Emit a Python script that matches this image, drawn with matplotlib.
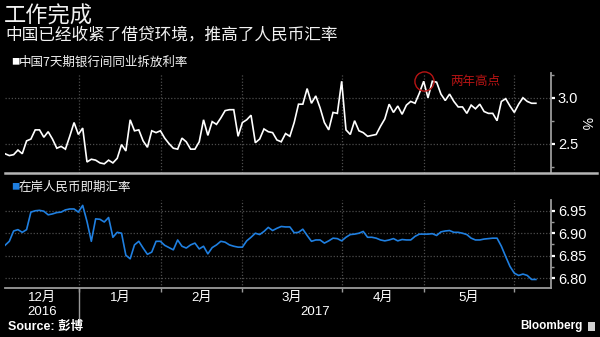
import numpy as np
import matplotlib
matplotlib.use('Agg')
import matplotlib.pyplot as plt
from matplotlib.lines import Line2D
from matplotlib.patches import Rectangle
from matplotlib.transforms import blended_transform_factory as btf
from matplotlib.ticker import FixedLocator, NullFormatter

plt.rcParams['font.family'] = ['Liberation Sans', 'Noto Sans CJK SC', 'DejaVu Sans']

# ---------------- data (one value per trading day) ----------------
shibor_7d = [2.39, 2.37, 2.38, 2.43, 2.39, 2.53, 2.55, 2.65, 2.65, 2.57,
             2.63, 2.55, 2.45, 2.47, 2.44, 2.58, 2.73, 2.60, 2.67, 2.30,
             2.33, 2.32, 2.29, 2.28, 2.32, 2.29, 2.34, 2.49, 2.42, 2.76,
             2.64, 2.65, 2.53, 2.46, 2.64, 2.62, 2.64, 2.56, 2.50, 2.45,
             2.44, 2.56, 2.52, 2.44,
             2.44, 2.52, 2.76, 2.59, 2.74, 2.71, 2.78, 2.86, 2.87, 2.87,
             2.58, 2.73, 2.76, 2.81, 2.51, 2.55, 2.66, 2.63, 2.62, 2.54,
             2.52, 2.61, 2.58, 2.73, 2.93, 2.93, 3.10, 2.94, 3.02, 2.89,
             2.73, 2.65, 2.84, 2.83, 3.18, 2.65, 2.60, 2.75, 2.64, 2.62,
             2.58, 2.59, 2.60,
             2.69, 2.77, 2.93, 2.84, 2.91, 2.82, 2.92, 2.96, 2.94, 3.05,
             3.18, 3.00, 3.18, 3.17, 3.04, 2.97, 3.04, 2.96, 2.90, 2.90,
             2.83, 2.92, 2.88, 2.93, 2.85, 2.83, 2.83, 2.75, 2.96, 2.99,
             2.91, 2.84, 2.93, 3.00, 2.96, 2.94, 2.94]

cny_spot = [6.873, 6.882, 6.905, 6.908, 6.902, 6.908, 6.947, 6.950, 6.951, 6.949,
            6.941, 6.943, 6.946, 6.947, 6.952, 6.954, 6.954, 6.947, 6.962, 6.926,
            6.882, 6.932, 6.931, 6.925, 6.935, 6.891, 6.902, 6.900, 6.851, 6.843,
            6.874, 6.882, 6.867, 6.853, 6.858, 6.882, 6.882, 6.873, 6.868, 6.863,
            6.885, 6.871, 6.867, 6.874,
            6.878, 6.865, 6.871, 6.854, 6.868, 6.874, 6.882, 6.880, 6.874, 6.871,
            6.869, 6.869, 6.883, 6.891, 6.900, 6.897, 6.904, 6.913, 6.906, 6.911,
            6.915, 6.914, 6.914, 6.901, 6.902, 6.909, 6.895, 6.882, 6.885, 6.885,
            6.878, 6.883, 6.889, 6.888, 6.883, 6.891, 6.897, 6.898, 6.900, 6.904,
            6.891, 6.891, 6.889,
            6.885, 6.883, 6.885, 6.888, 6.883, 6.886, 6.885, 6.885, 6.893, 6.898,
            6.898, 6.898, 6.899, 6.895, 6.903, 6.905, 6.906, 6.902, 6.902, 6.900,
            6.897, 6.889, 6.885, 6.885, 6.887, 6.888, 6.889, 6.889, 6.871, 6.848,
            6.826, 6.811, 6.806, 6.809, 6.806, 6.797, 6.797]

month_labels = ['12月', '1月', '2月', '3月', '4月', '5月']
month_starts = [17.15, 36.15, 54.9, 78.1, 97.1, 118.0]   # trading-day index of month boundaries
year_labels = ['2016', '2017']
top_ticks = [2.5, 3.0]
bottom_ticks = [6.80, 6.85, 6.90, 6.95]
peak_index = 97

# ---------------- layout ----------------
W, H = 600, 337
fig = plt.figure(figsize=(6, 3.37), dpi=100, facecolor='black')

def fx(px):
    return px / W

def fy(py):
    return 1 - py / H

XMAX = 126.5
x_top = np.arange(len(shibor_7d))
x_bot = np.arange(len(cny_spot))

ax1 = fig.add_axes([fx(5), fy(173), fx(551) - fx(5), (173 - 73) / H])
ax2 = fig.add_axes([fx(5), fy(288), fx(551) - fx(5), (288 - 200) / H])

WHITE = '#f2f2f2'
GRID = '#4d4d4d'
SPINE = '#9a9a9a'
BLUE = '#1f7fe0'
RED = '#b81414'

for ax in (ax1, ax2):
    ax.set_facecolor('black')
    ax.set_xlim(0, XMAX)
    for s in ('top', 'left', 'bottom'):
        ax.spines[s].set_visible(False)
    ax.spines['right'].set_color(SPINE)
    ax.spines['right'].set_linewidth(1.3)
    ax.yaxis.tick_right()
    ax.xaxis.set_major_locator(FixedLocator(month_starts))
    ax.xaxis.set_major_formatter(NullFormatter())
    ax.tick_params(axis='y', which='major', direction='out', length=3, width=1.6,
                   color='white', labelcolor='white', labelsize=10.5, pad=2)
    ax.tick_params(axis='y', which='minor', direction='out', length=2, width=1,
                   color=SPINE)
    ax.grid(True, which='major', color=GRID, linestyle=(0, (1, 1.5)), linewidth=0.9)

# top panel
ax1.plot(x_top, shibor_7d, color='white', lw=1.2, solid_joinstyle='miter')
ax1.set_ylim(2.18, 3.27)
ax1.set_yticks(top_ticks)
ax1.set_yticklabels([f'{t:.1f}' for t in top_ticks])
ax1.yaxis.set_minor_locator(FixedLocator([2.25, 2.75, 3.25]))
ax1.tick_params(axis='x', which='both', length=0)

ax1.plot([x_top[peak_index]], [shibor_7d[peak_index]], marker='o', ms=13.8,
         mfc='none', mec=RED, mew=1.0, ls='none', clip_on=False)
ax1.annotate('两年高点', xy=(x_top[peak_index], shibor_7d[peak_index]),
             xytext=(19, 0), textcoords='offset points', color=RED,
             fontsize=9, ha='left', va='center', family=['Noto Sans CJK SC'])

# bottom panel
ax2.plot(x_bot, cny_spot, color=BLUE, lw=1.2)
ax2.set_ylim(6.778, 6.974)
ax2.set_yticks(bottom_ticks)
ax2.set_yticklabels([f'{t:.2f}' for t in bottom_ticks])
ax2.yaxis.set_minor_locator(FixedLocator([6.825, 6.875, 6.925, 6.975]))
ax2.spines['bottom'].set_visible(True)
ax2.spines['bottom'].set_color(SPINE)
ax2.spines['bottom'].set_linewidth(1.3)

edges = [0] + month_starts
mids = [(edges[i] + edges[i + 1]) / 2 for i in range(len(month_labels))]
ax2.set_xticks(mids, minor=True)
ax2.set_xticklabels(month_labels, minor=True)
ax2.tick_params(axis='x', which='major', direction='out', length=3, width=1, color=SPINE)
ax2.tick_params(axis='x', which='minor', length=0, pad=2.5, labelsize=9.5, labelcolor='white')

# year labels and year divider
tr = btf(ax2.transData, fig.transFigure)
year_centers = [(0 + month_starts[0]) / 2, (month_starts[0] + XMAX) / 2]
for lab, xc in zip(year_labels, year_centers):
    fig.text(xc, fy(312), lab, transform=tr, ha='center', va='center',
             color='white', fontsize=9.5)
fig.add_artist(Line2D([month_starts[0], month_starts[0]], [fy(288), fy(322)],
                      transform=tr, color=SPINE, lw=1))

# separator line between panels
fig.add_artist(Line2D([fx(5), fx(597)], [fy(173), fy(173)], transform=fig.transFigure,
                      color='#b5b5b5', lw=1.8))

# unit label
fig.text(fx(586), fy(123), '%', rotation=270, color='white', fontsize=10,
         ha='center', va='center')

# titles
cjk = ['Noto Sans CJK SC', 'DejaVu Sans']
fig.text(fx(4), fy(16), '工作完成', color=WHITE, fontsize=16, ha='left', va='center',
         family=cjk)
fig.text(fx(5), fy(36), '中国已经收紧了借贷环境，推高了人民币汇率', color=WHITE,
         fontsize=12, ha='left', va='center', family=cjk)

# series labels
fig.text(fx(11), fy(62), '■', color='white', fontsize=6, ha='left', va='center', family=cjk)
fig.text(fx(19), fy(62), '中国7天期银行间同业拆放利率', color=WHITE, fontsize=9,
         ha='left', va='center', family=cjk)
fig.text(fx(11), fy(187), '■', color=BLUE, fontsize=6, ha='left', va='center', family=cjk)
fig.text(fx(19), fy(187), '在岸人民币即期汇率', color=WHITE, fontsize=9,
         ha='left', va='center', family=cjk)

# footer
fig.text(fx(8), fy(327), 'Source: 彭博', color='white', fontsize=9, weight='bold',
         ha='left', va='center')
fig.text(fx(583), fy(326), 'Bloomberg', color='white', fontsize=8.5, weight='bold',
         ha='right', va='center')
fig.add_artist(Rectangle((fx(588), fy(331)), fx(7), 9 / H, transform=fig.transFigure,
                         facecolor='#d0d0d0', edgecolor='none'))

fig.savefig('out.png', dpi=100, facecolor='black')
